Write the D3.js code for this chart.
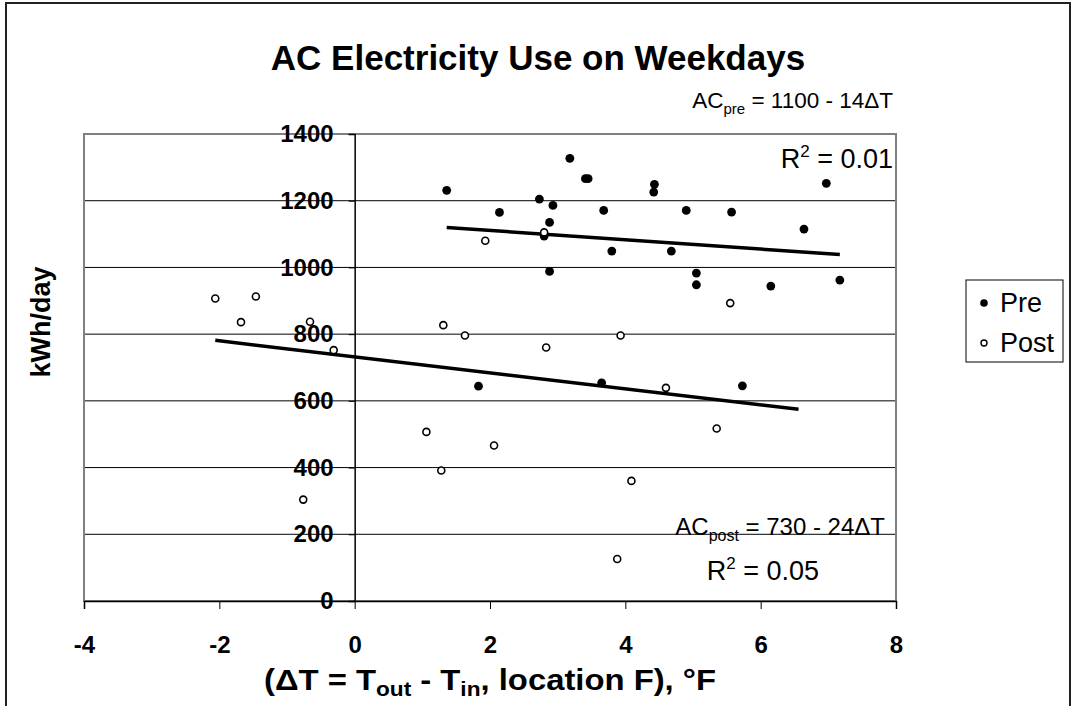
<!DOCTYPE html>
<html lang="en">
<head>
  <meta charset="utf-8">
  <title>AC Electricity Use on Weekdays</title>
  <script src="https://d3js.org/d3.v7.min.js"></script>
  <style>
    body { margin: 0; background: #fff; }
    svg text { font-family: Arial, "Liberation Sans", sans-serif; fill: #000; }
  </style>
</head>
<body>
<div id="chart"></div>
<script>
// Pre retrofit days (filled markers): deltaT (F) and kWh/day
var preDT  = [1.36, 2.14, 2.73, 2.93, 2.88, 2.80, 2.88, 3.18, 3.41, 3.45, 3.68, 3.80, 4.43,
              4.42, 6.97, 4.90, 5.57, 6.64, 4.68, 5.05, 5.05, 6.15, 7.17, 1.83, 3.65, 5.73];
var preKWh = [1231, 1165, 1205, 1186, 1135, 1094, 988, 1327, 1266, 1266, 1171, 1049, 1249,
              1226, 1252, 1171, 1166, 1115, 1049, 983, 948, 944, 962, 644, 654, 645];

// Post retrofit days (open markers)
var postDT  = [-2.06, -1.46, -1.68, -0.66, -0.31, 1.93, 2.80, 1.31, 1.63, 2.83, 3.93, 5.55,
               -0.76, 1.06, 2.06, 1.28, 4.09, 3.88, 4.60, 5.35];
var postKWh = [907, 913, 836, 837, 752, 1080, 1105, 827, 796, 760, 796, 893,
               304, 507, 466, 391, 360, 126, 639, 517];

// linear trend lines: [intercept, slope], drawn over [from, to]
var preFit  = [1139, -14];
var preSpan = [1.36, 7.17];
var postFit  = [732, -24];
var postSpan = [-2.06, 6.56];

var xTicks = [-4, -2, 0, 2, 4, 6, 8];
var yTicks = [0, 200, 400, 600, 800, 1000, 1200, 1400];

var W = 1074, H = 706;
var margin = {top: 134, left: 84},
    width = 812, height = 467;

var svg = d3.select("#chart").append("svg")
    .attr("width", W)
    .attr("height", H);

// outer chart frame (bottom edge runs off the picture)
svg.append("rect")
    .attr("x", 6).attr("y", 3)
    .attr("width", 1064).attr("height", 740)
    .attr("fill", "none")
    .attr("stroke", "#222")
    .attr("stroke-width", 2);

svg.append("text")
    .attr("x", 538).attr("y", 70)
    .attr("text-anchor", "middle")
    .style("font-size", "35px")
    .style("font-weight", "bold")
    .text("AC Electricity Use on Weekdays");

var g = svg.append("g")
    .attr("transform", `translate(${margin.left}, ${margin.top})`);

var x = d3.scaleLinear().domain([-4, 8]).range([0, width]);
var y = d3.scaleLinear().domain([0, 1400]).range([height, 0]);

// horizontal gridlines
g.selectAll(".grid")
    .data(yTicks.filter(d => d > 0 && d < 1400))
  .enter().append("line")
    .attr("x1", 0).attr("x2", width)
    .attr("y1", d => y(d)).attr("y2", d => y(d))
    .attr("stroke", "#000")
    .attr("stroke-width", 1);

// plot area border
g.append("rect")
    .attr("width", width).attr("height", height)
    .attr("fill", "none")
    .attr("stroke", "#808080")
    .attr("stroke-width", 2);

// plain hyphen for negatives, like the original
var fmt = d => String(d);

// x axis at y = 0
var xAxis = g.append("g")
    .attr("transform", `translate(0, ${y(0)})`)
    .call(d3.axisBottom(x).tickValues(xTicks).tickSize(8).tickPadding(27).tickFormat(fmt));

// y axis at x = 0
var yAxis = g.append("g")
    .attr("transform", `translate(${x(0)}, 0)`)
    .call(d3.axisLeft(y).tickValues(yTicks).tickSize(6).tickPadding(15).tickFormat(fmt));

[xAxis, yAxis].forEach(function(a) {
  a.select(".domain").attr("stroke", "#000").attr("stroke-width", 1.5);
  a.selectAll(".tick line").attr("stroke", "#000").attr("stroke-width", 1);
  a.selectAll("text")
    .style("font-family", "Arial, 'Liberation Sans', sans-serif")
    .style("font-size", "24px")
    .style("font-weight", "bold")
    .attr("fill", "#000");
});

// trend lines
var line = d3.line().x(d => x(d[0])).y(d => y(d[1]));
[[preFit, preSpan], [postFit, postSpan]].forEach(function(f) {
  var pts = f[1].map(t => [t, f[0][0] + f[0][1] * t]);
  g.append("path")
      .attr("d", line(pts))
      .attr("fill", "none")
      .attr("stroke", "#000")
      .attr("stroke-width", 3.5);
});

// points
g.selectAll(".pre")
    .data(d3.zip(preDT, preKWh))
  .enter().append("circle")
    .attr("cx", d => x(d[0])).attr("cy", d => y(d[1]))
    .attr("r", 4.4)
    .attr("fill", "#000");

g.selectAll(".post")
    .data(d3.zip(postDT, postKWh))
  .enter().append("circle")
    .attr("cx", d => x(d[0])).attr("cy", d => y(d[1]))
    .attr("r", 3.5)
    .attr("fill", "#fff")
    .attr("stroke", "#000")
    .attr("stroke-width", 1.6);

// axis titles
var xt = svg.append("text")
    .attr("x", margin.left + width / 2).attr("y", 690)
    .attr("text-anchor", "middle")
    .attr("textLength", 452)
    .attr("lengthAdjust", "spacingAndGlyphs")
    .style("font-size", "29px")
    .style("font-weight", "bold");
xt.append("tspan").text("(ΔT = T");
xt.append("tspan").attr("dy", 6).style("font-size", "20px").text("out");
xt.append("tspan").attr("dy", -6).text(" - T");
xt.append("tspan").attr("dy", 6).style("font-size", "20px").text("in");
xt.append("tspan").attr("dy", -6).text(", location F), °F");

svg.append("text")
    .attr("transform", "translate(50, 322) rotate(-90)")
    .attr("text-anchor", "middle")
    .style("font-size", "27px")
    .style("font-weight", "bold")
    .text("kWh/day");

// regression equations
function equation(xr, yb, fs, sub, rest) {
  var t = svg.append("text")
      .attr("x", xr).attr("y", yb)
      .attr("text-anchor", "end")
      .style("font-size", fs + "px");
  t.append("tspan").text("AC");
  t.append("tspan").attr("dy", 6).style("font-size", Math.round(fs * 0.68) + "px").text(sub);
  t.append("tspan").attr("dy", -6).text(rest);
}
function rsq(xr, yb, val) {
  var t = svg.append("text")
      .attr("x", xr).attr("y", yb)
      .attr("text-anchor", "end")
      .style("font-size", "27px");
  t.append("tspan").text("R");
  t.append("tspan").attr("dy", -11).style("font-size", "17px").text("2");
  t.append("tspan").attr("dy", 11).text(" = " + val);
}
equation(893, 108, 22.5, "pre", " = 1100 - 14ΔT");
rsq(893, 168, "0.01");
equation(885, 535, 24, "post", " = 730 - 24ΔT");
rsq(819, 580, "0.05");

// legend
var lg = svg.append("g").attr("transform", "translate(966, 280)");
lg.append("rect")
    .attr("width", 97).attr("height", 82)
    .attr("fill", "#fff")
    .attr("stroke", "#000")
    .attr("stroke-width", 1);
lg.append("circle").attr("cx", 18).attr("cy", 23).attr("r", 3.8).attr("fill", "#000");
lg.append("text").attr("x", 34).attr("y", 32).style("font-size", "27px").text("Pre");
lg.append("circle").attr("cx", 18).attr("cy", 63).attr("r", 3)
    .attr("fill", "#fff").attr("stroke", "#000").attr("stroke-width", 1.4);
lg.append("text").attr("x", 34).attr("y", 72).style("font-size", "27px").text("Post");
</script>
</body>
</html>
